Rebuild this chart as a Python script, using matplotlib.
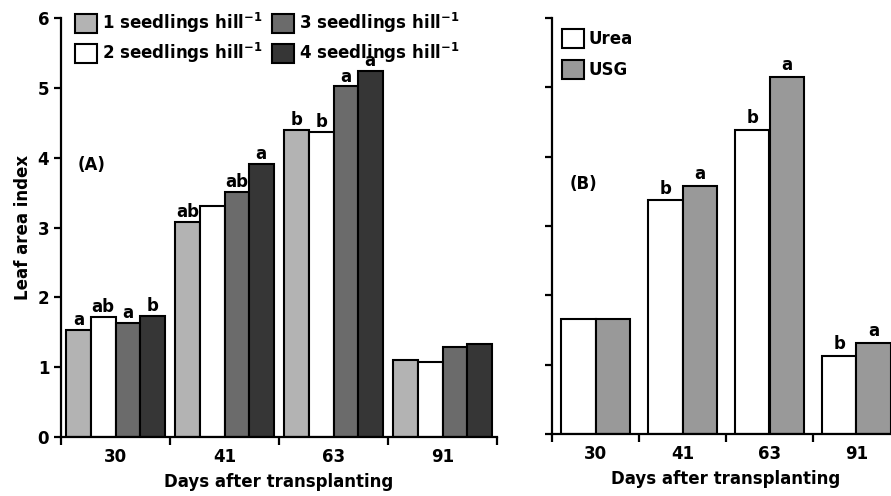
import matplotlib.pyplot as plt
import numpy as np

plt.rcParams['font.family'] = 'DejaVu Sans'
plt.rcParams['font.weight'] = 'bold'

days = ['30', '41', '63', '91']

# panel A: seedlings per hill
s1 = [1.53, 3.08, 4.40, 1.10]
s2 = [1.72, 3.31, 4.37, 1.08]
s3 = [1.63, 3.51, 5.02, 1.29]
s4 = [1.73, 3.91, 5.24, 1.33]
letters_a = [['a', 'ab', 'b', ''],
             ['ab', '', 'b', ''],
             ['a', 'ab', 'a', ''],
             ['b', 'a', 'a', '']]
names_a = ['1 seedlings hill$^{-1}$', '2 seedlings hill$^{-1}$',
           '3 seedlings hill$^{-1}$', '4 seedlings hill$^{-1}$']
colors_a = ['#b3b3b3', '#ffffff', '#6b6b6b', '#363636']

# panel B: nitrogen source
urea = [1.66, 3.37, 4.39, 1.13]
usg = [1.66, 3.58, 5.15, 1.31]
letters_b = [['', 'b', 'b', 'b'],
             ['', 'a', 'a', 'a']]
names_b = ['Urea', 'USG']
colors_b = ['#ffffff', '#999999']

fig = plt.figure(figsize=(8.91, 4.96), dpi=100)
axA = fig.add_axes([61/891, 59/496, 436/891, 419/496])
axB = fig.add_axes([552/891, 62/496, 348/891, 416/496])

x = np.arange(len(days))


def style(ax):
    for s in ['top', 'right']:
        ax.spines[s].set_visible(False)
    for s in ['left', 'bottom']:
        ax.spines[s].set_linewidth(1.6)
    ax.set_xlim(-0.5, 3.5)
    ax.set_ylim(0, 6)
    ax.set_xticks(x)
    ax.set_xticklabels(days, fontsize=12, fontweight='bold')
    ax.tick_params(axis='x', which='major', length=0, pad=8)
    ax.set_xticks(np.arange(-0.5, 4, 1), minor=True)
    ax.tick_params(axis='x', which='minor', length=6, width=1.6, direction='out')
    ax.set_yticks(range(7))
    ax.tick_params(axis='y', length=5, width=1.6, labelsize=12)
    ax.set_xlabel('Days after transplanting', fontsize=12, fontweight='bold', labelpad=5)


style(axA)
w = 0.225
series_a = [s1, s2, s3, s4]
handles = []
for i, vals in enumerate(series_a):
    pos = x + (i - 1.5) * w
    b = axA.bar(pos, vals, w, color=colors_a[i], edgecolor='black', linewidth=1.5,
                label=names_a[i])
    handles.append(b)
    for p, v, t in zip(pos, vals, letters_a[i]):
        if t:
            axA.text(p, v + 0.01, t, ha='center', va='bottom', fontsize=12, fontweight='bold')
axA.set_ylabel('Leaf area index', fontsize=12, fontweight='bold', labelpad=4)
for lab in axA.get_yticklabels():
    lab.set_fontweight('bold')
axA.text(-0.22, 3.9, '(A)', ha='center', va='center', fontsize=12, fontweight='bold')
axA.legend(handles=handles, ncol=2, loc='upper left', bbox_to_anchor=(0.032, 1.017),
           frameon=False, handlelength=1.3, handleheight=1.4, handletextpad=0.3,
           columnspacing=0.6, labelspacing=0.35, borderaxespad=0, borderpad=0,
           prop={'size': 12, 'weight': 'bold'})

style(axB)
axB.set_yticklabels([])
wb = 0.4
series_b = [urea, usg]
hb = []
for i, vals in enumerate(series_b):
    pos = x + (i - 0.5) * wb
    b = axB.bar(pos, vals, wb, color=colors_b[i], edgecolor='black', linewidth=1.5,
                label=names_b[i])
    hb.append(b)
    for p, v, t in zip(pos, vals, letters_b[i]):
        if t:
            axB.text(p, v + 0.04, t, ha='center', va='bottom', fontsize=12, fontweight='bold')
axB.text(-0.14, 3.6, '(B)', ha='center', va='center', fontsize=12, fontweight='bold')
axB.legend(handles=hb, loc='upper left', bbox_to_anchor=(0.029, 0.974),
           frameon=False, handlelength=1.3, handleheight=1.4, handletextpad=0.3,
           labelspacing=0.7, borderaxespad=0, borderpad=0,
           prop={'size': 12, 'weight': 'bold'})

fig.savefig('out.png', dpi=100)
